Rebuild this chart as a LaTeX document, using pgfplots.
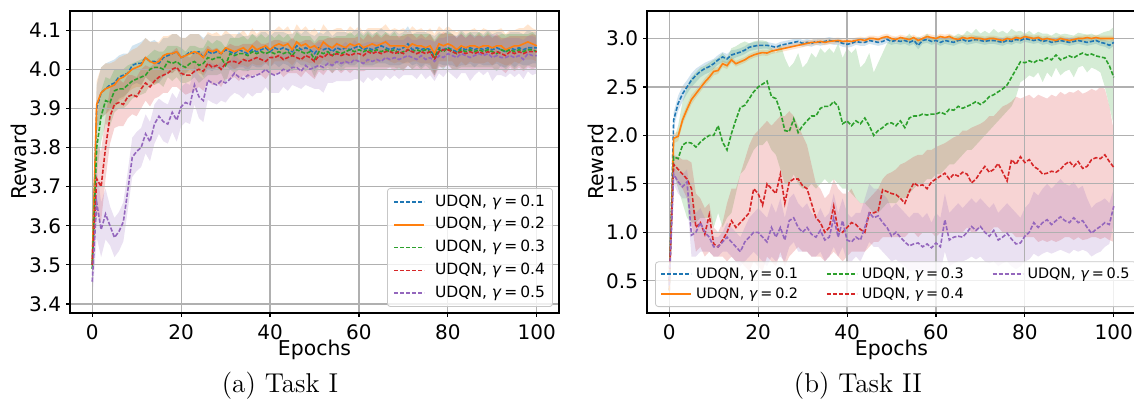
\documentclass[border=0pt]{standalone}
\usepackage{pgfplots}
\pgfplotsset{compat=1.18}
\usepackage{pgfplotstable}
\usepgfplotslibrary{fillbetween}
\usepackage{fontspec}
\newfontfamily\dv{DejaVu Sans}
\definecolor{c0}{HTML}{1F77B4}
\definecolor{c1}{HTML}{FF7F0E}
\definecolor{c2}{HTML}{2CA02C}
\definecolor{c3}{HTML}{D62728}
\definecolor{c4}{HTML}{9467BD}
\definecolor{gridc}{HTML}{B0B0B0}

% ---------------- Task I (x, mean, half-width) ----------------
\pgfplotstableread[row sep=\\]{
x m w\\
0 3.500 .040\\ 1 3.900 .060\\ 2 3.940 .065\\ 3 3.950 .065\\ 4 3.960 .060\\ 5 3.965 .060\\ 6 3.980 .055\\ 7 3.985 .055\\ 8 3.990 .050\\ 9 4.010 .050\\
10 4.015 .050\\ 11 4.015 .055\\ 12 4.030 .050\\ 13 4.020 .050\\ 14 4.020 .055\\ 15 4.015 .050\\ 16 4.030 .050\\ 17 4.035 .045\\ 18 4.040 .050\\ 19 4.045 .045\\
20 4.030 .050\\ 21 4.035 .045\\ 22 4.045 .045\\ 23 4.040 .050\\ 24 4.045 .045\\ 25 4.030 .050\\ 26 4.045 .045\\ 27 4.040 .045\\ 28 4.045 .040\\ 29 4.040 .045\\
30 4.050 .040\\ 31 4.045 .045\\ 32 4.040 .040\\ 33 4.050 .045\\ 34 4.045 .040\\ 35 4.040 .045\\ 36 4.050 .040\\ 37 4.045 .040\\ 38 4.050 .045\\ 39 4.055 .040\\
40 4.045 .040\\ 41 4.055 .040\\ 42 4.050 .045\\ 43 4.055 .040\\ 44 4.050 .040\\ 45 4.045 .045\\ 46 4.060 .040\\ 47 4.050 .040\\ 48 4.055 .045\\ 49 4.050 .040\\
50 4.040 .045\\ 51 4.055 .040\\ 52 4.050 .040\\ 53 4.055 .045\\ 54 4.045 .040\\ 55 4.055 .040\\ 56 4.050 .045\\ 57 4.055 .040\\ 58 4.050 .040\\ 59 4.055 .045\\
60 4.060 .040\\ 61 4.050 .040\\ 62 4.055 .045\\ 63 4.050 .040\\ 64 4.055 .040\\ 65 4.060 .045\\ 66 4.055 .040\\ 67 4.050 .040\\ 68 4.055 .045\\ 69 4.050 .040\\
70 4.055 .040\\ 71 4.065 .045\\ 72 4.050 .040\\ 73 4.055 .040\\ 74 4.050 .045\\ 75 4.055 .040\\ 76 4.050 .040\\ 77 4.035 .050\\ 78 4.055 .040\\ 79 4.050 .040\\
80 4.055 .045\\ 81 4.050 .040\\ 82 4.045 .040\\ 83 4.055 .045\\ 84 4.050 .040\\ 85 4.055 .040\\ 86 4.050 .045\\ 87 4.055 .040\\ 88 4.050 .040\\ 89 4.055 .045\\
90 4.050 .040\\ 91 4.055 .040\\ 92 4.050 .045\\ 93 4.045 .040\\ 94 4.055 .040\\ 95 4.050 .045\\ 96 4.055 .040\\ 97 4.050 .040\\ 98 4.055 .045\\ 99 4.055 .040\\
100 4.055 .040\\
}\tAb
\pgfplotstableread[row sep=\\]{
x m w\\
0 3.510 .040\\ 1 3.910 .060\\ 2 3.940 .065\\ 3 3.950 .065\\ 4 3.955 .060\\ 5 3.960 .060\\ 6 3.975 .055\\ 7 3.980 .055\\ 8 3.990 .050\\ 9 4.000 .050\\
10 4.005 .050\\ 11 4.010 .055\\ 12 4.030 .050\\ 13 4.020 .050\\ 14 4.015 .055\\ 15 4.020 .050\\ 16 4.035 .050\\ 17 4.040 .045\\ 18 4.040 .050\\ 19 4.045 .045\\
20 4.030 .050\\ 21 4.035 .045\\ 22 4.040 .050\\ 23 4.045 .045\\ 24 4.040 .050\\ 25 4.030 .045\\ 26 4.050 .045\\ 27 4.045 .045\\ 28 4.050 .045\\ 29 4.040 .045\\
30 4.055 .045\\ 31 4.050 .040\\ 32 4.045 .045\\ 33 4.050 .040\\ 34 4.055 .045\\ 35 4.045 .040\\ 36 4.060 .045\\ 37 4.050 .040\\ 38 4.055 .045\\ 39 4.060 .040\\
40 4.050 .045\\ 41 4.060 .040\\ 42 4.065 .045\\ 43 4.060 .040\\ 44 4.065 .045\\ 45 4.050 .040\\ 46 4.070 .045\\ 47 4.060 .040\\ 48 4.065 .045\\ 49 4.055 .040\\
50 4.060 .045\\ 51 4.050 .040\\ 52 4.070 .045\\ 53 4.060 .040\\ 54 4.055 .045\\ 55 4.065 .040\\ 56 4.060 .045\\ 57 4.055 .040\\ 58 4.065 .045\\ 59 4.060 .040\\
60 4.065 .045\\ 61 4.055 .040\\ 62 4.060 .045\\ 63 4.065 .040\\ 64 4.060 .045\\ 65 4.065 .040\\ 66 4.070 .045\\ 67 4.060 .040\\ 68 4.060 .045\\ 69 4.060 .040\\
70 4.060 .045\\ 71 4.055 .040\\ 72 4.065 .045\\ 73 4.060 .040\\ 74 4.060 .045\\ 75 4.055 .040\\ 76 4.060 .045\\ 77 4.040 .050\\ 78 4.065 .045\\ 79 4.060 .040\\
80 4.065 .045\\ 81 4.060 .040\\ 82 4.050 .045\\ 83 4.060 .040\\ 84 4.055 .045\\ 85 4.060 .040\\ 86 4.060 .045\\ 87 4.055 .040\\ 88 4.060 .045\\ 89 4.060 .040\\
90 4.055 .045\\ 91 4.060 .040\\ 92 4.060 .045\\ 93 4.050 .040\\ 94 4.055 .045\\ 95 4.060 .040\\ 96 4.060 .045\\ 97 4.065 .040\\ 98 4.070 .045\\ 99 4.065 .040\\
100 4.060 .040\\
}\tAo
\pgfplotstableread[row sep=\\]{
x m w\\
0 3.490 .040\\ 1 3.800 .070\\ 2 3.880 .065\\ 3 3.920 .060\\ 4 3.915 .060\\ 5 3.945 .055\\ 6 3.950 .050\\ 7 3.950 .050\\ 8 3.960 .050\\ 9 3.970 .045\\
10 3.975 .045\\ 11 3.980 .045\\ 12 3.985 .045\\ 13 4.000 .040\\ 14 4.005 .045\\ 15 4.005 .040\\ 16 4.000 .045\\ 17 4.020 .040\\ 18 4.015 .045\\ 19 4.020 .040\\
20 4.010 .045\\ 21 4.005 .040\\ 22 4.015 .045\\ 23 4.020 .040\\ 24 4.010 .045\\ 25 4.015 .040\\ 26 4.030 .045\\ 27 4.025 .040\\ 28 4.030 .045\\ 29 4.030 .040\\
30 4.010 .045\\ 31 4.040 .040\\ 32 4.035 .045\\ 33 4.040 .040\\ 34 4.040 .045\\ 35 4.035 .040\\ 36 4.045 .045\\ 37 4.040 .040\\ 38 4.045 .045\\ 39 4.040 .040\\
40 4.045 .045\\ 41 4.040 .040\\ 42 4.045 .045\\ 43 4.040 .040\\ 44 4.045 .045\\ 45 4.035 .040\\ 46 4.050 .045\\ 47 4.045 .040\\ 48 4.040 .045\\ 49 4.045 .040\\
50 4.025 .045\\ 51 4.045 .040\\ 52 4.040 .045\\ 53 4.045 .040\\ 54 4.035 .045\\ 55 4.045 .040\\ 56 4.040 .045\\ 57 4.045 .040\\ 58 4.050 .045\\ 59 4.045 .040\\
60 4.050 .045\\ 61 4.045 .040\\ 62 4.050 .045\\ 63 4.045 .040\\ 64 4.050 .045\\ 65 4.045 .040\\ 66 4.050 .045\\ 67 4.045 .040\\ 68 4.050 .045\\ 69 4.040 .040\\
70 4.045 .045\\ 71 4.050 .040\\ 72 4.045 .045\\ 73 4.050 .040\\ 74 4.045 .045\\ 75 4.050 .040\\ 76 4.045 .045\\ 77 4.030 .045\\ 78 4.050 .040\\ 79 4.045 .045\\
80 4.055 .040\\ 81 4.045 .045\\ 82 4.040 .040\\ 83 4.050 .045\\ 84 4.045 .040\\ 85 4.050 .045\\ 86 4.045 .040\\ 87 4.050 .045\\ 88 4.045 .040\\ 89 4.050 .045\\
90 4.045 .040\\ 91 4.040 .045\\ 92 4.050 .040\\ 93 4.045 .045\\ 94 4.050 .040\\ 95 4.045 .045\\ 96 4.050 .040\\ 97 4.045 .045\\ 98 4.050 .040\\ 99 4.050 .045\\
100 4.045 .040\\
}\tAg
\pgfplotstableread[row sep=\\]{
x m w\\
0 3.500 .040\\ 1 3.720 .090\\ 2 3.700 .090\\ 3 3.800 .080\\ 4 3.880 .070\\ 5 3.910 .060\\ 6 3.915 .060\\ 7 3.910 .055\\ 8 3.930 .055\\ 9 3.935 .050\\
10 3.930 .050\\ 11 3.950 .050\\ 12 3.965 .045\\ 13 3.955 .050\\ 14 3.970 .045\\ 15 3.980 .050\\ 16 3.985 .045\\ 17 3.990 .050\\ 18 4.000 .045\\ 19 4.005 .050\\
20 3.990 .045\\ 21 3.985 .050\\ 22 3.985 .045\\ 23 3.995 .050\\ 24 4.000 .045\\ 25 3.995 .050\\ 26 4.015 .045\\ 27 4.005 .045\\ 28 4.010 .045\\ 29 4.000 .045\\
30 4.015 .040\\ 31 4.020 .045\\ 32 4.020 .040\\ 33 4.015 .045\\ 34 4.025 .040\\ 35 4.020 .045\\ 36 4.025 .040\\ 37 4.030 .045\\ 38 4.025 .040\\ 39 4.020 .045\\
40 4.030 .040\\ 41 4.030 .045\\ 42 4.035 .040\\ 43 4.025 .045\\ 44 4.030 .040\\ 45 4.035 .045\\ 46 4.030 .040\\ 47 4.025 .045\\ 48 4.035 .040\\ 49 4.030 .045\\
50 4.020 .045\\ 51 4.035 .040\\ 52 4.030 .045\\ 53 4.040 .040\\ 54 4.035 .045\\ 55 4.040 .040\\ 56 4.035 .045\\ 57 4.040 .040\\ 58 4.035 .045\\ 59 4.040 .040\\
60 4.040 .045\\ 61 4.035 .040\\ 62 4.045 .045\\ 63 4.040 .040\\ 64 4.045 .045\\ 65 4.040 .040\\ 66 4.045 .045\\ 67 4.045 .040\\ 68 4.040 .045\\ 69 4.045 .040\\
70 4.040 .045\\ 71 4.050 .040\\ 72 4.045 .045\\ 73 4.040 .040\\ 74 4.045 .045\\ 75 4.040 .040\\ 76 4.045 .045\\ 77 4.025 .045\\ 78 4.045 .040\\ 79 4.050 .045\\
80 4.050 .040\\ 81 4.045 .045\\ 82 4.040 .040\\ 83 4.045 .045\\ 84 4.040 .040\\ 85 4.045 .045\\ 86 4.040 .040\\ 87 4.045 .045\\ 88 4.040 .040\\ 89 4.045 .045\\
90 4.040 .040\\ 91 4.045 .045\\ 92 4.040 .040\\ 93 4.035 .045\\ 94 4.045 .040\\ 95 4.040 .045\\ 96 4.045 .040\\ 97 4.040 .045\\ 98 4.045 .040\\ 99 4.045 .045\\
100 4.045 .040\\
}\tAr
\pgfplotstableread[row sep=\\]{
x m w\\
0 3.457 .050\\ 1 3.660 .090\\ 2 3.590 .070\\ 3 3.630 .065\\ 4 3.600 .050\\ 5 3.570 .050\\ 6 3.585 .050\\ 7 3.610 .050\\ 8 3.690 .050\\ 9 3.775 .050\\
10 3.790 .050\\ 11 3.800 .050\\ 12 3.835 .050\\ 13 3.815 .050\\ 14 3.860 .050\\ 15 3.880 .045\\ 16 3.866 .050\\ 17 3.860 .050\\ 18 3.890 .050\\ 19 3.870 .055\\
20 3.904 .050\\ 21 3.915 .050\\ 22 3.910 .050\\ 23 3.960 .050\\ 24 3.930 .055\\ 25 3.920 .055\\ 26 3.972 .050\\ 27 3.965 .050\\ 28 3.960 .050\\ 29 3.970 .050\\
30 3.965 .050\\ 31 3.975 .045\\ 32 3.990 .050\\ 33 3.980 .045\\ 34 3.975 .050\\ 35 3.985 .045\\ 36 3.980 .050\\ 37 3.985 .045\\ 38 3.990 .050\\ 39 4.000 .045\\
40 3.990 .050\\ 41 3.985 .045\\ 42 3.990 .050\\ 43 4.000 .045\\ 44 3.995 .050\\ 45 4.005 .045\\ 46 4.005 .050\\ 47 3.995 .045\\ 48 4.010 .050\\ 49 4.000 .045\\
50 4.005 .055\\ 51 4.010 .060\\ 52 4.005 .065\\ 53 4.015 .050\\ 54 4.010 .045\\ 55 4.020 .050\\ 56 4.015 .045\\ 57 4.020 .050\\ 58 4.015 .045\\ 59 4.025 .050\\
60 4.020 .045\\ 61 4.015 .050\\ 62 4.025 .045\\ 63 4.020 .050\\ 64 4.025 .045\\ 65 4.020 .050\\ 66 4.030 .045\\ 67 4.025 .050\\ 68 4.030 .045\\ 69 4.025 .050\\
70 4.030 .045\\ 71 4.035 .050\\ 72 4.030 .045\\ 73 4.025 .050\\ 74 4.035 .045\\ 75 4.025 .050\\ 76 4.030 .045\\ 77 4.020 .050\\ 78 4.035 .045\\ 79 4.030 .050\\
80 4.040 .045\\ 81 4.035 .050\\ 82 4.030 .055\\ 83 4.040 .050\\ 84 4.035 .045\\ 85 4.030 .060\\ 86 4.035 .050\\ 87 4.040 .045\\ 88 4.035 .050\\ 89 4.040 .045\\
90 4.030 .060\\ 91 4.035 .050\\ 92 4.030 .045\\ 93 4.030 .050\\ 94 4.035 .045\\ 95 4.030 .050\\ 96 4.035 .045\\ 97 4.025 .050\\ 98 4.040 .045\\ 99 4.035 .050\\
100 4.035 .045\\
}\tAp

% ---------------- Task II ----------------
\pgfplotstableread[row sep=\\]{
x m w\\
0 0.40 .05\\ 1 2.16 .08\\ 2 2.33 .08\\ 3 2.43 .08\\ 4 2.50 .07\\ 5 2.57 .07\\ 6 2.62 .07\\ 7 2.66 .06\\ 8 2.69 .06\\ 9 2.71 .06\\
10 2.74 .05\\ 11 2.78 .05\\ 12 2.81 .05\\ 13 2.79 .05\\ 14 2.83 .05\\ 15 2.845 .04\\ 16 2.86 .04\\ 17 2.88 .04\\ 18 2.91 .04\\ 19 2.92 .04\\
20 2.93 .04\\ 21 2.93 .035\\ 22 2.93 .035\\ 23 2.92 .035\\ 24 2.91 .035\\ 25 2.93 .035\\ 26 2.94 .035\\ 27 2.95 .035\\ 28 2.96 .035\\ 29 2.97 .035\\
30 2.95 .035\\ 31 2.96 .035\\ 32 2.95 .035\\ 33 2.97 .035\\ 34 2.96 .035\\ 35 2.97 .035\\ 36 2.98 .035\\ 37 2.97 .035\\ 38 2.97 .035\\ 39 2.95 .035\\
40 2.94 .035\\ 41 2.95 .035\\ 42 2.97 .035\\ 43 2.96 .035\\ 44 2.96 .035\\ 45 2.98 .035\\ 46 2.97 .035\\ 47 2.96 .035\\ 48 2.97 .035\\ 49 2.99 .035\\
50 2.97 .035\\ 51 2.98 .035\\ 52 2.97 .035\\ 53 2.98 .035\\ 54 2.96 .035\\ 55 2.98 .035\\ 56 2.93 .04\\ 57 2.98 .035\\ 58 2.99 .035\\ 59 2.97 .035\\
60 2.98 .035\\ 61 2.96 .035\\ 62 2.98 .035\\ 63 2.97 .035\\ 64 2.96 .035\\ 65 2.98 .035\\ 66 2.99 .035\\ 67 2.97 .035\\ 68 2.98 .035\\ 69 2.99 .035\\
70 2.98 .035\\ 71 2.97 .035\\ 72 2.98 .035\\ 73 2.98 .035\\ 74 2.97 .035\\ 75 2.96 .035\\ 76 2.98 .035\\ 77 2.97 .035\\ 78 2.99 .035\\ 79 2.98 .035\\
80 3.00 .035\\ 81 2.99 .035\\ 82 2.98 .035\\ 83 2.99 .035\\ 84 2.97 .035\\ 85 2.98 .035\\ 86 2.96 .035\\ 87 2.97 .035\\ 88 2.98 .035\\ 89 2.97 .035\\
90 2.96 .035\\ 91 2.97 .035\\ 92 2.98 .035\\ 93 2.97 .035\\ 94 2.96 .035\\ 95 2.97 .035\\ 96 2.98 .035\\ 97 2.96 .035\\ 98 2.95 .035\\ 99 2.93 .04\\
100 2.96 .035\\
}\tBb
\pgfplotstableread[row sep=\\]{
x m w\\
0 0.40 .05\\ 1 1.97 .05\\ 2 1.99 .05\\ 3 2.16 .05\\ 4 2.27 .05\\ 5 2.37 .05\\ 6 2.43 .04\\ 7 2.49 .04\\ 8 2.55 .04\\ 9 2.60 .04\\
10 2.66 .04\\ 11 2.67 .035\\ 12 2.74 .035\\ 13 2.72 .035\\ 14 2.78 .03\\ 15 2.74 .03\\ 16 2.76 .03\\ 17 2.78 .03\\ 18 2.81 .03\\ 19 2.83 .03\\
20 2.845 .03\\ 21 2.855 .03\\ 22 2.85 .03\\ 23 2.87 .03\\ 24 2.88 .03\\ 25 2.89 .03\\ 26 2.90 .03\\ 27 2.91 .03\\ 28 2.92 .03\\ 29 2.93 .03\\
30 2.94 .03\\ 31 2.95 .03\\ 32 2.96 .03\\ 33 2.96 .03\\ 34 2.97 .03\\ 35 2.96 .03\\ 36 2.97 .03\\ 37 2.975 .03\\ 38 2.98 .03\\ 39 2.97 .03\\
40 2.975 .03\\ 41 2.97 .03\\ 42 2.98 .03\\ 43 2.99 .03\\ 44 2.98 .03\\ 45 3.00 .03\\ 46 3.00 .03\\ 47 2.99 .03\\ 48 3.01 .03\\ 49 3.02 .03\\
50 3.00 .03\\ 51 2.99 .03\\ 52 3.01 .03\\ 53 3.00 .03\\ 54 2.99 .03\\ 55 3.01 .03\\ 56 2.98 .03\\ 57 3.00 .03\\ 58 3.02 .03\\ 59 3.01 .03\\
60 3.00 .03\\ 61 3.02 .03\\ 62 3.01 .03\\ 63 3.02 .03\\ 64 3.00 .03\\ 65 2.99 .03\\ 66 3.01 .03\\ 67 3.00 .03\\ 68 3.01 .03\\ 69 3.00 .03\\
70 3.00 .03\\ 71 2.99 .03\\ 72 3.00 .03\\ 73 3.00 .03\\ 74 2.99 .03\\ 75 2.98 .03\\ 76 3.00 .03\\ 77 2.99 .03\\ 78 3.01 .03\\ 79 3.00 .03\\
80 3.02 .03\\ 81 3.01 .03\\ 82 3.00 .03\\ 83 3.01 .03\\ 84 2.99 .03\\ 85 3.00 .03\\ 86 2.99 .03\\ 87 2.98 .03\\ 88 3.00 .03\\ 89 2.99 .03\\
90 2.98 .03\\ 91 2.99 .03\\ 92 3.00 .03\\ 93 3.00 .03\\ 94 3.01 .03\\ 95 3.00 .03\\ 96 3.01 .03\\ 97 3.00 .03\\ 98 3.00 .03\\ 99 3.00 .03\\
100 3.00 .03\\
}\tBo
\pgfplotstableread[row sep=\\]{
x m lo hi\\
0 0.50 0.45 0.55\\ 1 1.78 1.60 1.95\\ 2 1.76 1.45 2.10\\ 3 1.90 1.30 2.35\\ 4 1.93 1.15 2.50\\ 5 1.92 1.10 2.60\\ 6 1.88 1.10 2.65\\ 7 1.93 1.15 2.70\\ 8 1.97 1.15 2.72\\ 9 2.00 1.15 2.75\\
10 2.00 1.05 2.78\\ 11 2.10 1.20 2.80\\ 12 1.93 1.05 2.85\\ 13 1.85 1.15 2.80\\ 14 2.02 1.20 2.90\\ 15 2.16 1.40 2.92\\ 16 2.29 1.60 2.95\\ 17 2.31 1.65 2.97\\ 18 2.38 1.75 2.95\\ 19 2.45 1.85 2.97\\
20 2.50 1.90 2.98\\ 21 2.53 1.90 2.98\\ 22 2.56 1.95 2.97\\ 23 2.40 1.85 2.90\\ 24 2.38 1.80 2.85\\ 25 2.25 1.65 2.95\\ 26 2.05 1.50 2.80\\ 27 2.04 1.50 2.70\\ 28 2.17 1.60 2.75\\ 29 2.03 1.50 2.85\\
30 2.10 1.45 2.70\\ 31 2.15 1.45 2.75\\ 32 2.20 1.50 2.85\\ 33 2.20 1.45 2.80\\ 34 2.28 1.50 2.90\\ 35 2.30 1.55 2.85\\ 36 2.30 1.50 2.90\\ 37 2.35 1.55 2.85\\ 38 2.30 1.50 2.95\\ 39 2.12 1.45 2.80\\
40 2.15 1.45 2.90\\ 41 2.10 1.40 2.85\\ 42 2.15 1.35 2.90\\ 43 2.12 1.30 2.70\\ 44 2.18 1.30 2.75\\ 45 2.10 1.25 2.85\\ 46 2.00 1.20 2.65\\ 47 2.05 1.20 2.75\\ 48 2.08 1.25 2.85\\ 49 2.12 1.30 2.95\\
50 2.13 1.30 3.00\\ 51 2.10 1.30 2.95\\ 52 2.15 1.35 3.02\\ 53 2.08 1.35 3.00\\ 54 2.18 1.40 3.05\\ 55 2.20 1.45 3.00\\ 56 2.20 1.50 3.02\\ 57 2.22 1.50 3.00\\ 58 2.21 1.55 3.05\\ 59 2.22 1.55 3.00\\
60 2.22 1.60 3.02\\ 61 2.24 1.60 3.03\\ 62 2.22 1.65 3.00\\ 63 2.27 1.70 3.04\\ 64 2.26 1.70 3.02\\ 65 2.30 1.75 3.05\\ 66 2.28 1.80 3.03\\ 67 2.30 1.85 3.08\\ 68 2.32 1.85 3.05\\ 69 2.35 1.90 3.10\\
70 2.32 1.95 3.05\\ 71 2.35 2.00 3.08\\ 72 2.40 2.05 3.05\\ 73 2.42 2.10 3.10\\ 74 2.45 2.15 3.06\\ 75 2.48 2.20 3.08\\ 76 2.52 2.25 3.05\\ 77 2.60 2.30 3.10\\ 78 2.68 2.40 3.07\\ 79 2.76 2.55 3.08\\
80 2.75 2.58 3.05\\ 81 2.77 2.62 3.08\\ 82 2.75 2.60 3.04\\ 83 2.78 2.65 3.07\\ 84 2.77 2.55 3.05\\ 85 2.80 2.65 3.05\\ 86 2.78 2.60 3.03\\ 87 2.83 2.70 3.06\\ 88 2.78 2.62 3.04\\ 89 2.80 2.66 3.05\\
90 2.82 2.68 3.04\\ 91 2.80 2.60 3.03\\ 92 2.83 2.70 3.06\\ 93 2.85 2.72 3.05\\ 94 2.83 2.65 3.04\\ 95 2.84 2.70 3.05\\ 96 2.82 2.68 3.03\\ 97 2.81 2.65 3.05\\ 98 2.80 2.50 3.07\\ 99 2.72 2.30 3.08\\
100 2.60 2.10 3.12\\
}\tBg
\pgfplotstableread[row sep=\\]{
x m lo hi\\
0 0.50 0.45 0.55\\ 1 1.70 1.60 1.80\\ 2 1.65 1.50 1.78\\ 3 1.60 1.45 1.75\\ 4 1.55 1.35 1.75\\ 5 1.45 1.10 1.72\\ 6 1.05 0.80 1.40\\ 7 1.10 0.85 1.35\\ 8 0.98 0.75 1.25\\ 9 1.18 0.80 1.30\\
10 0.88 0.75 1.05\\ 11 0.85 0.75 1.00\\ 12 0.92 0.75 1.10\\ 13 1.00 0.70 1.30\\ 14 1.12 0.75 1.45\\ 15 1.05 0.70 1.45\\ 16 1.10 0.70 1.60\\ 17 1.15 0.65 1.75\\ 18 1.20 0.60 1.90\\ 19 1.45 0.70 2.00\\
20 1.40 0.65 2.05\\ 21 1.28 0.60 2.10\\ 22 1.50 0.75 2.15\\ 23 1.45 0.70 2.10\\ 24 1.40 0.65 2.15\\ 25 1.60 0.80 2.20\\ 26 1.30 0.65 2.20\\ 27 1.52 0.75 2.25\\ 28 1.55 0.80 2.20\\ 29 1.55 0.85 2.10\\
30 1.48 0.80 2.00\\ 31 1.45 0.80 1.90\\ 32 1.30 0.75 1.70\\ 33 1.15 0.75 1.50\\ 34 1.10 0.75 1.45\\ 35 1.00 0.70 1.35\\ 36 1.05 0.75 1.40\\ 37 1.27 0.80 1.55\\ 38 1.02 0.75 1.45\\ 39 1.00 0.70 1.40\\
40 1.05 0.75 1.40\\ 41 1.10 0.80 1.45\\ 42 1.08 0.80 1.35\\ 43 1.03 0.80 1.30\\ 44 1.00 0.80 1.30\\ 45 1.20 0.85 1.35\\ 46 1.20 0.90 1.40\\ 47 1.22 0.90 1.45\\ 48 1.44 0.95 1.55\\ 49 1.42 0.95 1.60\\
50 1.40 0.95 1.62\\ 51 1.39 0.95 1.65\\ 52 1.35 0.95 1.70\\ 53 1.30 0.95 1.72\\ 54 1.42 1.00 1.75\\ 55 1.51 1.00 1.78\\ 56 1.48 0.95 1.80\\ 57 1.49 1.00 1.80\\ 58 1.45 1.00 1.85\\ 59 1.52 1.00 1.85\\
60 1.55 0.95 1.88\\ 61 1.58 1.00 1.90\\ 62 1.61 1.00 1.92\\ 63 1.55 1.00 1.95\\ 64 1.60 1.00 1.98\\ 65 1.58 1.00 2.00\\ 66 1.62 1.00 2.05\\ 67 1.60 1.05 2.05\\ 68 1.51 1.00 2.08\\ 69 1.55 1.00 2.10\\
70 1.62 1.05 2.12\\ 71 1.68 1.00 2.15\\ 72 1.62 1.00 2.20\\ 73 1.65 1.05 2.20\\ 74 1.71 1.05 2.25\\ 75 1.62 1.00 2.30\\ 76 1.53 1.00 2.32\\ 77 1.75 1.00 2.35\\ 78 1.70 0.95 2.40\\ 79 1.78 0.95 2.38\\
80 1.72 0.95 2.40\\ 81 1.75 0.95 2.42\\ 82 1.68 0.95 2.38\\ 83 1.65 0.90 2.42\\ 84 1.60 0.92 2.40\\ 85 1.61 0.90 2.38\\ 86 1.63 0.92 2.42\\ 87 1.62 0.90 2.40\\ 88 1.65 0.92 2.45\\ 89 1.70 0.95 2.42\\
90 1.73 0.95 2.45\\ 91 1.68 0.92 2.44\\ 92 1.73 0.95 2.47\\ 93 1.66 0.92 2.43\\ 94 1.68 0.93 2.45\\ 95 1.75 0.95 2.48\\ 96 1.77 0.95 2.46\\ 97 1.76 0.93 2.50\\ 98 1.80 0.95 2.48\\ 99 1.73 0.92 2.30\\
100 1.67 0.90 2.05\\
}\tBr
\pgfplotstableread[row sep=\\]{
x m lo hi\\
0 0.45 0.40 0.50\\ 1 1.60 1.50 1.68\\ 2 1.52 1.40 1.62\\ 3 1.47 1.35 1.60\\ 4 1.52 1.35 1.65\\ 5 0.97 0.75 1.30\\ 6 1.00 0.75 1.20\\ 7 1.10 0.80 1.25\\ 8 1.00 0.80 1.15\\ 9 0.95 0.80 1.10\\
10 0.85 0.75 0.95\\ 11 0.85 0.75 0.95\\ 12 0.90 0.80 1.00\\ 13 0.95 0.80 1.10\\ 14 0.90 0.75 1.05\\ 15 0.85 0.70 1.00\\ 16 0.80 0.65 0.95\\ 17 0.90 0.70 1.05\\ 18 0.95 0.75 1.15\\ 19 1.00 0.80 1.20\\
20 1.00 0.75 1.25\\ 21 0.95 0.70 1.20\\ 22 0.90 0.65 1.15\\ 23 1.05 0.75 1.30\\ 24 0.95 0.70 1.20\\ 25 1.05 0.75 1.35\\ 26 0.92 0.70 1.15\\ 27 1.12 0.85 1.35\\ 28 1.15 0.90 1.40\\ 29 1.05 0.80 1.30\\
30 1.00 0.80 1.25\\ 31 1.05 0.80 1.30\\ 32 0.98 0.75 1.20\\ 33 0.95 0.75 1.15\\ 34 1.02 0.80 1.25\\ 35 0.92 0.70 1.15\\ 36 0.95 0.75 1.20\\ 37 1.15 0.85 1.40\\ 38 0.95 0.75 1.20\\ 39 1.12 0.85 1.35\\
40 0.92 0.70 1.20\\ 41 0.90 0.70 1.15\\ 42 0.95 0.75 1.20\\ 43 0.92 0.70 1.20\\ 44 1.05 0.80 1.35\\ 45 1.20 0.90 1.50\\ 46 1.15 0.85 1.45\\ 47 1.17 0.85 1.45\\ 48 1.10 0.80 1.40\\ 49 1.05 0.75 1.35\\
50 0.96 0.70 1.25\\ 51 1.00 0.72 1.30\\ 52 0.95 0.68 1.25\\ 53 0.90 0.65 1.20\\ 54 0.86 0.60 1.15\\ 55 0.88 0.60 1.20\\ 56 0.89 0.62 1.20\\ 57 0.85 0.58 1.15\\ 58 0.88 0.60 1.20\\ 59 0.84 0.58 1.10\\
60 0.89 0.60 1.20\\ 61 0.85 0.60 1.15\\ 62 1.13 0.80 1.40\\ 63 0.92 0.65 1.20\\ 64 0.95 0.68 1.25\\ 65 0.96 0.70 1.30\\ 66 0.95 0.70 1.25\\ 67 1.00 0.72 1.30\\ 68 1.06 0.75 1.35\\ 69 1.02 0.72 1.30\\
70 1.06 0.75 1.35\\ 71 1.00 0.70 1.30\\ 72 0.96 0.68 1.25\\ 73 1.02 0.70 1.30\\ 74 0.92 0.65 1.20\\ 75 0.95 0.68 1.25\\ 76 0.99 0.70 1.30\\ 77 0.93 0.65 1.25\\ 78 0.88 0.62 1.20\\ 79 0.89 0.65 1.15\\
80 0.96 0.70 1.25\\ 81 1.00 0.72 1.30\\ 82 1.10 0.78 1.42\\ 83 1.05 0.75 1.38\\ 84 1.10 0.78 1.45\\ 85 1.13 0.80 1.50\\ 86 1.08 0.78 1.45\\ 87 1.12 0.80 1.50\\ 88 1.16 0.82 1.55\\ 89 1.12 0.80 1.50\\
90 1.10 0.78 1.48\\ 91 1.15 0.82 1.52\\ 92 1.10 0.80 1.45\\ 93 1.12 0.82 1.48\\ 94 1.05 0.80 1.35\\ 95 0.99 0.75 1.25\\ 96 1.03 0.78 1.30\\ 97 1.06 0.80 1.32\\ 98 1.10 0.85 1.35\\ 99 1.08 0.88 1.30\\
100 1.27 1.10 1.45\\
}\tBp

% symmetric band: #1 table, #2 path name, #3 colour
\newcommand\symband[3]{%
  \addplot[draw=none, forget plot, name path=#2u] table[x=x, y expr=\thisrow{m}+\thisrow{w}] {#1};
  \addplot[draw=none, forget plot, name path=#2l] table[x=x, y expr=\thisrow{m}-\thisrow{w}] {#1};
  \addplot[fill=#3, fill opacity=0.2, draw=none, forget plot] fill between[of=#2u and #2l];
}
\newcommand\lhband[3]{%
  \addplot[draw=none, forget plot, name path=#2u] table[x=x, y=hi] {#1};
  \addplot[draw=none, forget plot, name path=#2l] table[x=x, y=lo] {#1};
  \addplot[fill=#3, fill opacity=0.2, draw=none, forget plot] fill between[of=#2u and #2l];
}

\pgfplotsset{
  layers/mylayers/.define layer set={axis background,pre main,axis grid,axis ticks,main,axis lines,axis tick labels,axis descriptions,axis foreground}{},
  dsh/.style={dash pattern=on 2.1pt off 0.9pt},
  common/.style={
    set layers=mylayers,
    scale only axis, anchor=south west,
    width=244.5pt, height=151pt,
    xmin=-5, xmax=105, xtick={0,20,40,60,80,100},
    grid=major, major grid style={line width=0.6pt, color=gridc},
    axis line style={line width=0.55pt, black},
    tick pos=left, tick align=outside, major tick length=1.8pt,
    tick style={line width=0.55pt, black},
    ticklabel style={font=\dv\fontsize{10}{12}\selectfont},
    /pgf/number format/assume math mode=true,
    xticklabel style={inner sep=0pt, yshift=-3.7pt},
    yticklabel style={inner sep=0pt, xshift=-2.5pt,
      /pgf/number format/fixed, /pgf/number format/fixed zerofill, /pgf/number format/precision=1},
    label style={font=\dv\fontsize{10.2}{12}\selectfont},
    xlabel={Epochs}, ylabel={Reward},
    xlabel style={at={(axis description cs:0.5,-0.1404)}, anchor=base},
    ylabel style={at={(axis description cs:-0.088,0.5)}, anchor=base},
    legend image code/.code={\draw[#1] (0pt,0pt) -- (15pt,0pt);},
    legend cell align=left,
    every axis plot/.append style={line width=0.8pt},
  },
}

\begin{document}
\begin{tikzpicture}

\begin{axis}[common, at={(35pt,45.5pt)},
  ymin=3.377, ymax=4.149, ytick={3.4,3.5,3.6,3.7,3.8,3.9,4.0,4.1},
  legend style={at={(axis description cs:0.9877,0.0199)}, anchor=south east,
    font=\dv\fontsize{7.75}{9}\selectfont, draw=black!22, rounded corners=1.5pt,
    fill=white, fill opacity=0.8, text opacity=1, draw opacity=1,
    inner xsep=3pt, inner ysep=2.4pt, row sep=2.7pt,
    nodes={inner sep=0.8pt, text height=5.6pt, text depth=1.5pt},
    /tikz/every odd column/.append style={column sep=4.2pt}},
]
\symband{\tAb}{ab}{c0}
\addplot[c0, dsh] table[x=x,y=m] {\tAb};
\addlegendentry{UDQN, {\itshape γ}\kern0.2em=\kern0.2em0.1}
\symband{\tAo}{ao}{c1}
\addplot[c1] table[x=x,y=m] {\tAo};
\addlegendentry{UDQN, {\itshape γ}\kern0.2em=\kern0.2em0.2}
\symband{\tAg}{ag}{c2}
\addplot[c2, dsh] table[x=x,y=m] {\tAg};
\addlegendentry{UDQN, {\itshape γ}\kern0.2em=\kern0.2em0.3}
\symband{\tAr}{ar}{c3}
\addplot[c3, dsh] table[x=x,y=m] {\tAr};
\addlegendentry{UDQN, {\itshape γ}\kern0.2em=\kern0.2em0.4}
\symband{\tAp}{ap}{c4}
\addplot[c4, dsh] table[x=x,y=m] {\tAp};
\addlegendentry{UDQN, {\itshape γ}\kern0.2em=\kern0.2em0.5}
\end{axis}

\begin{axis}[common, at={(323.5pt,45.5pt)},
  ymin=0.167, ymax=3.284, ytick={0.5,1.0,1.5,2.0,2.5,3.0},
  legend columns=2, transpose legend,
  legend style={at={(axis description cs:0.0164,0.0199)}, anchor=south west,
    font=\dv\fontsize{7.2}{8.5}\selectfont, draw=black!22, rounded corners=1.5pt,
    fill=white, fill opacity=0.8, text opacity=1, draw opacity=1,
    inner xsep=2.5pt, inner ysep=2.1pt, row sep=1.8pt,
    nodes={inner sep=0.8pt, text height=5.2pt, text depth=1.4pt},
    /tikz/every odd column/.append style={column sep=1.2pt},
    /tikz/every even column/.append style={column sep=13.2pt}},
]
\symband{\tBb}{bb}{c0}
\addplot[c0, dsh] table[x=x,y=m] {\tBb};
\addlegendentry{UDQN, {\itshape γ}\kern0.2em=\kern0.2em0.1}
\symband{\tBo}{bo}{c1}
\addplot[c1] table[x=x,y=m] {\tBo};
\addlegendentry{UDQN, {\itshape γ}\kern0.2em=\kern0.2em0.2}
\lhband{\tBg}{bg}{c2}
\addplot[c2, dsh] table[x=x,y=m] {\tBg};
\addlegendentry{UDQN, {\itshape γ}\kern0.2em=\kern0.2em0.3}
\lhband{\tBr}{br}{c3}
\addplot[c3, dsh] table[x=x,y=m] {\tBr};
\addlegendentry{UDQN, {\itshape γ}\kern0.2em=\kern0.2em0.4}
\lhband{\tBp}{bp}{c4}
\addplot[c4, dsh] table[x=x,y=m] {\tBp};
\addlegendentry{UDQN, {\itshape γ}\kern0.2em=\kern0.2em0.5}
\end{axis}

\node[font=\fontsize{13.6}{16}\selectfont, anchor=base] at (140pt,6pt) {(a) Task I};
\node[font=\fontsize{13.6}{16}\selectfont, anchor=base] at (429pt,6pt) {(b) Task II};
\pgfresetboundingbox
\path[use as bounding box] (0,0) rectangle (567pt,202pt);
\end{tikzpicture}
\end{document}
